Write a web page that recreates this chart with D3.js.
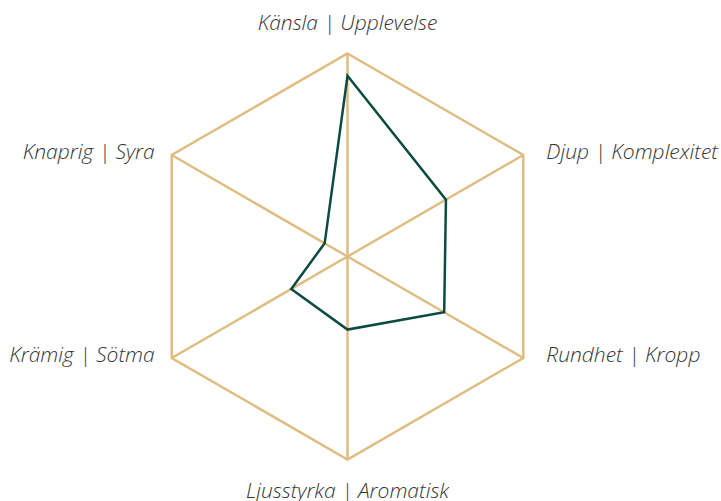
<!DOCTYPE html>
<html>
<head>
<meta charset="utf-8">
<script src="https://cdn.jsdelivr.net/npm/d3@7"></script>
<style>
  body { margin: 0; background: #fff; }
  svg text { font-family: "Open Sans", "Noto Sans", sans-serif; font-style: italic; font-weight: 300; }
</style>
</head>
<body>
<svg id="chart" width="721" height="501"></svg>
<script>
// Axes, clockwise from the top
const axes = ['Känsla | Upplevelse', 'Djup | Komplexitet', 'Rundhet | Kropp',
              'Ljusstyrka | Aromatisk', 'Krämig | Sötma', 'Knaprig | Syra'];
const values = [8.9, 5.6, 5.5, 3.6, 3.2, 1.3];
const maxValue = 10;

const svg = d3.select('#chart');
const cx = 347.5, cy = 256.5, radius = 203;
const gold = '#dfbc80', green = '#0c4a42';

const angle = d3.scaleLinear().domain([0, axes.length]).range([0, 2 * Math.PI]);
const rScale = d3.scaleLinear().domain([0, maxValue]).range([0, radius]);

const pt = (i, r) => [cx + r * Math.sin(angle(i)), cy - r * Math.cos(angle(i))];

const g = svg.append('g');

// Outer hexagon
g.append('path')
    .attr('d', d3.line()(axes.map((a, i) => pt(i, rScale(maxValue)))) + 'Z')
    .attr('fill', 'none')
    .attr('stroke', gold)
    .attr('stroke-width', 2.5);

// Spokes
g.selectAll('.spoke')
    .data(axes)
    .enter()
    .append('line')
    .attr('class', 'spoke')
    .attr('x1', cx).attr('y1', cy)
    .attr('x2', (d, i) => pt(i, rScale(maxValue))[0])
    .attr('y2', (d, i) => pt(i, rScale(maxValue))[1])
    .attr('stroke', gold)
    .attr('stroke-width', 2.5);

// Data polygon
g.append('path')
    .attr('d', d3.line()(values.map((v, i) => pt(i, rScale(v)))) + 'Z')
    .attr('fill', 'none')
    .attr('stroke', green)
    .attr('stroke-width', 2.5)
    .attr('stroke-linejoin', 'miter');

// Labels
g.selectAll('.label')
    .data(axes)
    .enter()
    .append('text')
    .attr('class', 'label')
    .each(function(d, i) {
        const [vx, vy] = pt(i, rScale(maxValue));
        const s = Math.sin(angle(i));
        const t = d3.select(this);
        if (Math.abs(s) < 0.01) {
            t.attr('x', vx)
             .attr('y', vy + (vy < cy ? -24 : 38))
             .attr('text-anchor', 'middle');
        } else {
            t.attr('x', vx + (s > 0 ? 23 : -17))
             .attr('y', vy + 4)
             .attr('text-anchor', s > 0 ? 'start' : 'end');
        }
    })
    .attr('font-size', '21px')
    .attr('fill', '#333')
    .text(d => d);
</script>
</body>
</html>
